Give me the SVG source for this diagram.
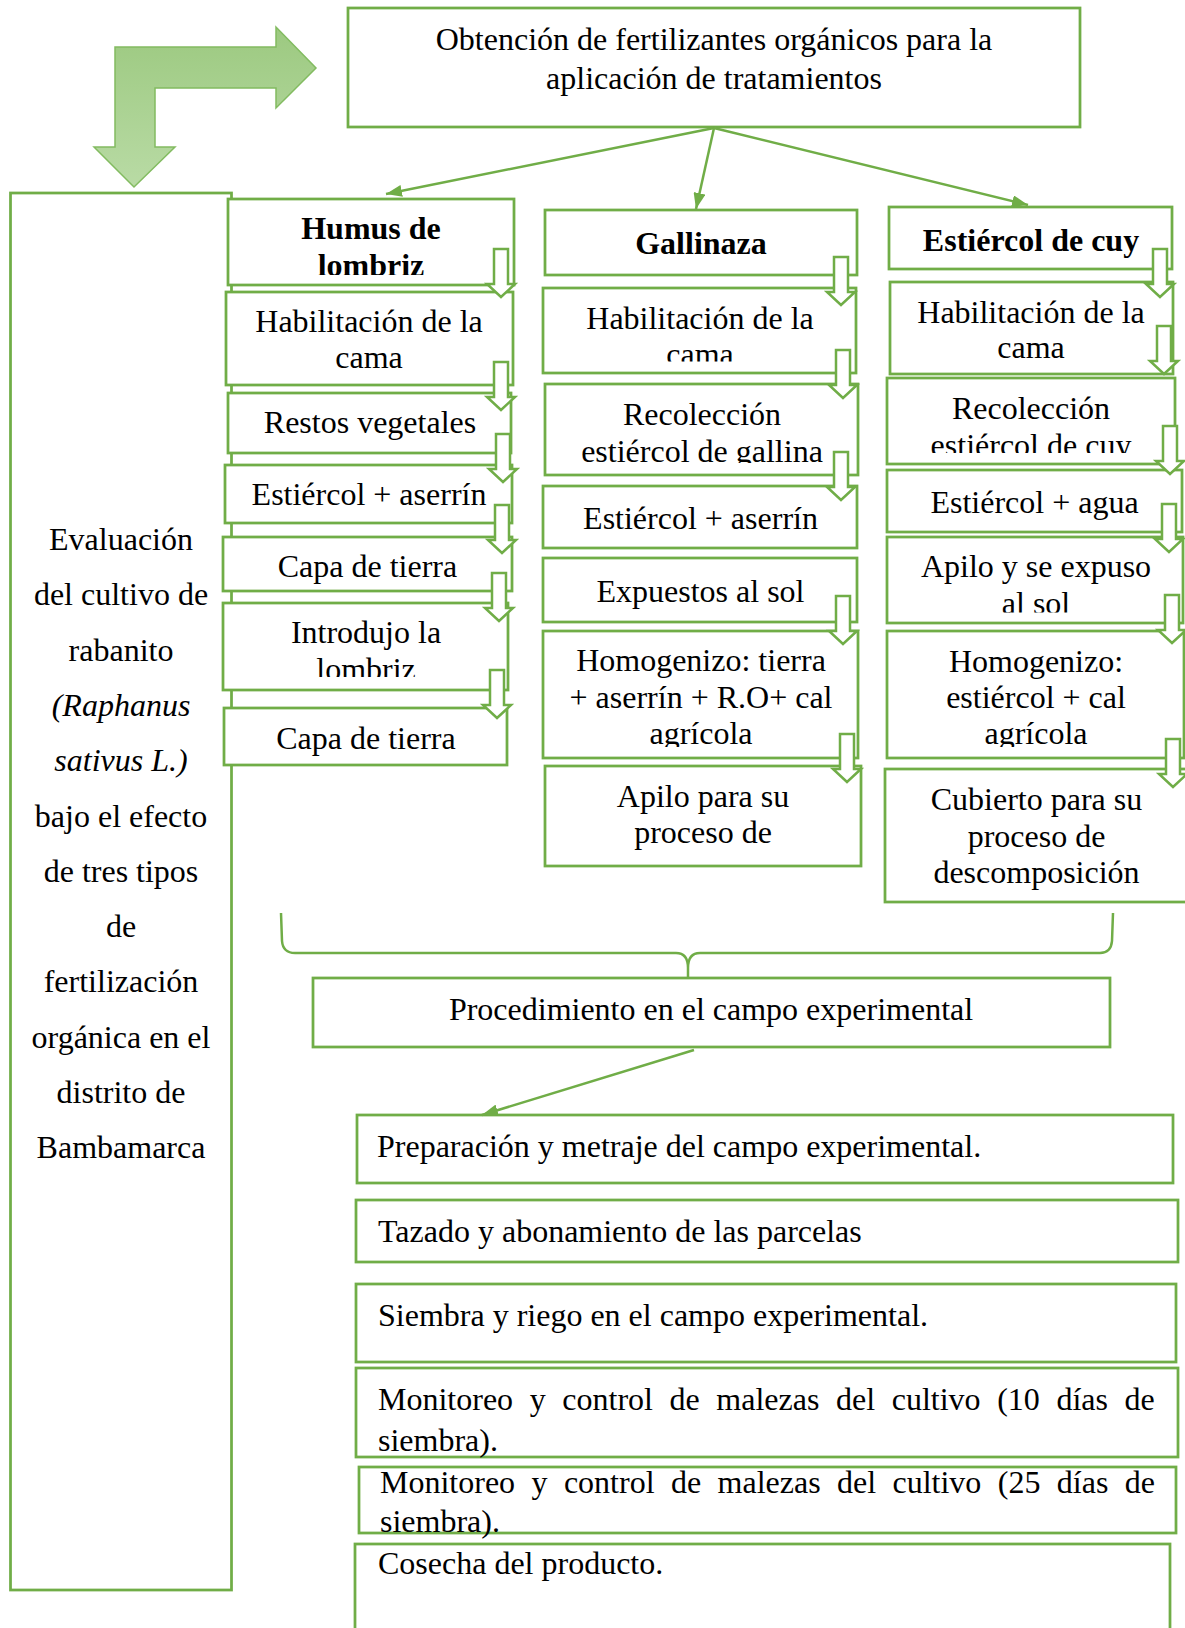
<svg xmlns="http://www.w3.org/2000/svg" xmlns:xlink="http://www.w3.org/1999/xlink" width="1185" height="1628" viewBox="0 0 1185 1628">
<style>
.box{fill:#fff;stroke:#70ad47;stroke-width:2.75}
.t{font-family:"Liberation Serif","Times New Roman",serif;font-size:32px;fill:#000}
.c{text-anchor:middle}
.b{font-weight:bold}
.i{font-style:italic}
.ln{stroke:#70ad47;stroke-width:2.5;fill:none}
.blk{fill:#fff;stroke:#70ad47;stroke-width:2.5;stroke-linejoin:miter}
</style>
<defs>
<linearGradient id="gArrow" x1="0" y1="0" x2="0" y2="1">
<stop offset="0" stop-color="#9cc980"/>
<stop offset="1" stop-color="#b9dba5"/>
</linearGradient>
<marker id="ah" viewBox="0 0 16 12" refX="16" refY="6" markerWidth="16" markerHeight="12" markerUnits="userSpaceOnUse" orient="auto">
<path d="M0,0 L16,6 L0,12 z" fill="#70ad47"/>
</marker>
<path id="blk" d="M-7,-48 H7 V-13 H14 L0,0 L-14,-13 H-7 Z"/>
<clipPath id="cp1"><rect x="228" y="199" width="286" height="76"/></clipPath>
<clipPath id="cp2"><rect x="543" y="288" width="313" height="73.5"/></clipPath>
<clipPath id="cp3"><rect x="545" y="384" width="313" height="79"/></clipPath>
<clipPath id="cp4"><rect x="887" y="378" width="288" height="75"/></clipPath>
<clipPath id="cp5"><rect x="887" y="537" width="296" height="75.5"/></clipPath>
<clipPath id="cp6"><rect x="223" y="603" width="285" height="74"/></clipPath>
<clipPath id="cp7"><rect x="543" y="631" width="315" height="116"/></clipPath>
<clipPath id="cp8"><rect x="887" y="631" width="297" height="116"/></clipPath>
</defs>
<rect width="1185" height="1628" fill="#fff"/>

<g id="node-top">
<rect class="box" x="348" y="8" width="732" height="119"/>
<text class="t c" x="714" y="50">Obtención de fertilizantes orgánicos para la</text>
<text class="t c" x="714" y="89">aplicación de tratamientos</text>
</g>

<g id="node-left">
<rect class="box" x="10.5" y="193" width="221" height="1397"/>
<text class="t c" x="121" y="550">Evaluación</text>
<text class="t c" x="121" y="605">del cultivo de</text>
<text class="t c" x="121" y="661">rabanito</text>
<text class="t c i" x="121" y="716">(Raphanus</text>
<text class="t c i" x="121" y="771">sativus L.)</text>
<text class="t c" x="121" y="827">bajo el efecto</text>
<text class="t c" x="121" y="882">de tres tipos</text>
<text class="t c" x="121" y="937">de</text>
<text class="t c" x="121" y="992">fertilización</text>
<text class="t c" x="121" y="1048">orgánica en el</text>
<text class="t c" x="121" y="1103">distrito de</text>
<text class="t c" x="121" y="1158">Bambamarca</text>
</g>

<g id="node-humus">
<rect class="box" x="228" y="199" width="286" height="86"/>
<g clip-path="url(#cp1)">
<text class="t c b" x="371" y="239">Humus de</text>
<text class="t c b" x="371" y="276">lombriz</text>
</g>
</g>
<g id="node-h-habilitacion">
<rect class="box" x="226" y="292" width="287" height="93"/>
<text class="t c" x="369" y="332">Habilitación de la</text>
<text class="t c" x="369" y="368">cama</text>
</g>
<g id="node-h-restos">
<rect class="box" x="228" y="393" width="283" height="60"/>
<text class="t c" x="370" y="433">Restos vegetales</text>
</g>
<g id="node-h-estiercol">
<rect class="box" x="225" y="465" width="287" height="58"/>
<text class="t c" x="369" y="505">Estiércol + aserrín</text>
</g>
<g id="node-h-capa1">
<rect class="box" x="223" y="537" width="289" height="54"/>
<text class="t c" x="367.5" y="577">Capa de tierra</text>
</g>
<g id="node-h-introdujo">
<rect class="box" x="223" y="603" width="285" height="87"/>
<g clip-path="url(#cp6)">
<text class="t c" x="366" y="643">Introdujo la</text>
<text class="t c" x="366" y="680">lombriz</text>
</g>
</g>
<g id="node-h-capa2">
<rect class="box" x="224" y="708" width="283" height="57"/>
<text class="t c" x="366" y="749">Capa de tierra</text>
</g>

<g id="node-gallinaza">
<rect class="box" x="545" y="210" width="312" height="65"/>
<text class="t c b" x="701" y="254">Gallinaza</text>
</g>
<g id="node-g-habilitacion">
<rect class="box" x="543" y="288" width="313" height="85"/>
<g clip-path="url(#cp2)">
<text class="t c" x="700" y="329">Habilitación de la</text>
<text class="t c" x="700" y="365">cama</text>
</g>
</g>
<g id="node-g-recoleccion">
<rect class="box" x="545" y="384" width="313" height="91"/>
<g clip-path="url(#cp3)">
<text class="t c" x="702" y="425">Recolección</text>
<text class="t c" x="702" y="462">estiércol de gallina</text>
</g>
</g>
<g id="node-g-estiercol">
<rect class="box" x="543" y="486" width="314" height="62"/>
<text class="t c" x="700.5" y="529">Estiércol + aserrín</text>
</g>
<g id="node-g-expuestos">
<rect class="box" x="543" y="558" width="314" height="64"/>
<text class="t c" x="700.5" y="602">Expuestos al sol</text>
</g>
<g id="node-g-homogenizo">
<rect class="box" x="543" y="631" width="315" height="127"/>
<g clip-path="url(#cp7)">
<text class="t c" x="701" y="671">Homogenizo: tierra</text>
<text class="t c" x="701" y="708">+ aserrín + R.O+ cal</text>
<text class="t c" x="701" y="744">agrícola</text>
</g>
</g>
<g id="node-g-apilo">
<rect class="box" x="545" y="766" width="316" height="100"/>
<text class="t c" x="703" y="807">Apilo para su</text>
<text class="t c" x="703" y="843">proceso de</text>
</g>

<g id="node-cuy">
<rect class="box" x="889" y="207" width="283" height="62"/>
<text class="t c b" x="1031" y="251">Estiércol de cuy</text>
</g>
<g id="node-c-habilitacion">
<rect class="box" x="890" y="282" width="283" height="92"/>
<text class="t c" x="1031" y="323">Habilitación de la</text>
<text class="t c" x="1031" y="358">cama</text>
</g>
<g id="node-c-recoleccion">
<rect class="box" x="887" y="378" width="288" height="86"/>
<g clip-path="url(#cp4)">
<text class="t c" x="1031" y="419">Recolección</text>
<text class="t c" x="1031" y="456">estiércol de cuy</text>
</g>
</g>
<g id="node-c-estiercol">
<rect class="box" x="887" y="470" width="295" height="62"/>
<text class="t c" x="1034.5" y="513">Estiércol + agua</text>
</g>
<g id="node-c-apilo">
<rect class="box" x="887" y="537" width="296" height="86"/>
<g clip-path="url(#cp5)">
<text class="t c" x="1036" y="577">Apilo y se expuso</text>
<text class="t c" x="1036" y="614">al sol</text>
</g>
</g>
<g id="node-c-homogenizo">
<rect class="box" x="887" y="631" width="297" height="127"/>
<g clip-path="url(#cp8)">
<text class="t c" x="1036" y="672">Homogenizo:</text>
<text class="t c" x="1036" y="708">estiércol + cal</text>
<text class="t c" x="1036" y="744">agrícola</text>
</g>
</g>
<g id="node-c-cubierto">
<rect class="box" x="885" y="769" width="305" height="133"/>
<text class="t c" x="1036.5" y="810">Cubierto para su</text>
<text class="t c" x="1036.5" y="847">proceso de</text>
<text class="t c" x="1036.5" y="883">descomposición</text>
</g>

<g id="node-procedimiento">
<rect class="box" x="313" y="978" width="797" height="69"/>
<text class="t c" x="711" y="1020">Procedimiento en el campo experimental</text>
</g>
<g id="node-preparacion">
<rect class="box" x="357" y="1115" width="816" height="68"/>
<text class="t" x="377" y="1157">Preparación y metraje del campo experimental.</text>
</g>
<g id="node-tazado">
<rect class="box" x="356" y="1200" width="822" height="62"/>
<text class="t" x="378" y="1242">Tazado y abonamiento de las parcelas</text>
</g>
<g id="node-siembra">
<rect class="box" x="356" y="1284" width="820" height="78"/>
<text class="t" x="378" y="1326">Siembra y riego en el campo experimental.</text>
</g>
<g id="node-monitoreo10">
<rect class="box" x="356" y="1368" width="822" height="89"/>
<text class="t" x="378" y="1410" word-spacing="8.6">Monitoreo y control de malezas del cultivo (10 días de</text>
<text class="t" x="378" y="1451">siembra).</text>
</g>
<g id="node-monitoreo25">
<rect class="box" x="359" y="1467" width="817" height="66"/>
<text class="t" x="380" y="1493" word-spacing="8.4">Monitoreo y control de malezas del cultivo (25 días de</text>
<text class="t" x="380" y="1532">siembra).</text>
</g>
<g id="node-cosecha">
<rect class="box" x="355" y="1544" width="815" height="100"/>
<text class="t" x="378" y="1574">Cosecha del producto.</text>
</g>

<g id="connectors">
<path d="M115,147 L115,47 L276,47 L276,27 L316,68 L276,108 L276,88 L155,88 L155,147 L175,147 L134,187 L94,147 Z" fill="url(#gArrow)" stroke="#82bb60" stroke-width="1.5"/>
<line class="ln" x1="714" y1="128" x2="386" y2="194" marker-end="url(#ah)"/>
<line class="ln" x1="714" y1="128" x2="696" y2="209" marker-end="url(#ah)"/>
<line class="ln" x1="714" y1="128" x2="1028" y2="205" marker-end="url(#ah)"/>
<path class="ln" stroke-width="3" d="M281,913 L282,941 Q283,953 295,953 L676,953 Q688,953 688,968 L688,978 M688,968 Q688,953 700,953 L1100,953 Q1111,953 1112,941 L1113,913"/>
<line class="ln" x1="694" y1="1050" x2="482" y2="1115" marker-end="url(#ah)"/>
<use href="#blk" xlink:href="#blk" class="blk" x="501" y="297"/>
<use href="#blk" xlink:href="#blk" class="blk" x="501" y="410"/>
<use href="#blk" xlink:href="#blk" class="blk" x="503" y="482"/>
<use href="#blk" xlink:href="#blk" class="blk" x="502" y="553"/>
<use href="#blk" xlink:href="#blk" class="blk" x="499" y="621"/>
<use href="#blk" xlink:href="#blk" class="blk" x="497" y="718"/>
<use href="#blk" xlink:href="#blk" class="blk" x="841" y="305"/>
<use href="#blk" xlink:href="#blk" class="blk" x="843" y="398"/>
<use href="#blk" xlink:href="#blk" class="blk" x="841" y="500"/>
<use href="#blk" xlink:href="#blk" class="blk" x="843" y="644"/>
<use href="#blk" xlink:href="#blk" class="blk" x="847" y="782"/>
<use href="#blk" xlink:href="#blk" class="blk" x="1160" y="297"/>
<use href="#blk" xlink:href="#blk" class="blk" x="1164" y="374"/>
<use href="#blk" xlink:href="#blk" class="blk" x="1170" y="474"/>
<use href="#blk" xlink:href="#blk" class="blk" x="1169" y="552"/>
<use href="#blk" xlink:href="#blk" class="blk" x="1172" y="643"/>
<use href="#blk" xlink:href="#blk" class="blk" x="1173" y="787"/>
</g>
</svg>
